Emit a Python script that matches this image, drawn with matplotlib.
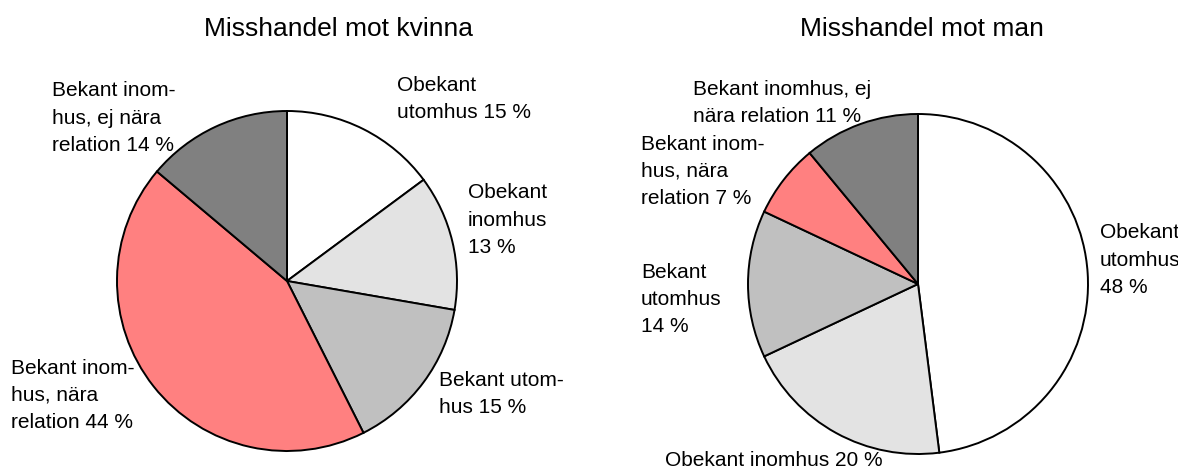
#%% Packages
import numpy as np
import matplotlib
matplotlib.use('Agg')
import matplotlib.pyplot as plt

#%% Data
titles = ['Misshandel mot kvinna', 'Misshandel mot man']
# slices, clockwise from 12 o'clock
cats = ['Obekant utomhus', 'Obekant inomhus', 'Bekant utomhus',
        'Bekant inomhus, nära relation', 'Bekant inomhus, ej nära relation']
kvinna = [15, 13, 15, 44, 14]            # [%]
man = [48, 20, 14, 7, 11]                # [%]
kvinna_lbl = ['Obekant\nutomhus 15 %', 'Obekant\ninomhus\n13 %', 'Bekant utom-\nhus 15 %',
              'Bekant inom-\nhus, nära\nrelation 44 %', 'Bekant inom-\nhus, ej nära\nrelation 14 %']
man_lbl = ['Obekant\nutomhus\n48 %', 'Obekant inomhus 20 %', 'Bekant\nutomhus\n14 %',
           'Bekant inom-\nhus, nära\nrelation 7 %', 'Bekant inomhus, ej\nnära relation 11 %']

#%% Style
W, H = 1178, 467                         # [px] - figure size
colors = ['#FFFFFF', '#E3E3E3', '#C0C0C0', '#FF8080', '#808080']
centers = [(287, 281), (918, 284)]       # [px] - pie centres (from top)
R = 170                                  # [px] - pie radius
title_pos = [(338, 36), (922, 36)]       # [px] - centre, baseline
# label anchor: left edge, baseline of last line (from top)
kvinna_pos = [(397, 118), (468, 253), (439, 413), (11, 428), (52, 151)]
man_pos = [(1100, 293), (665, 466), (641, 332), (641, 204), (693, 122)]

plt.rcParams['font.family'] = ['Liberation Sans', 'DejaVu Sans']

#%% Plotting
fig = plt.figure(figsize=(W/100, H/100), dpi=100)
ax = fig.add_axes([0, 0, 1, 1])

for vals, c in zip([kvinna, man], centers):
    ax.pie(vals, colors=colors, startangle=90, counterclock=False,
           center=(c[0], H - c[1]), radius=R,
           wedgeprops=dict(edgecolor='black', linewidth=1.4))

for t, (x, y) in zip(titles, title_pos):
    ax.text(x, H - y, t, ha='center', va='baseline', fontsize=19, zorder=5)

for lbls, pos in [(kvinna_lbl, kvinna_pos), (man_lbl, man_pos)]:
    for t, (x, y) in zip(lbls, pos):
        ax.text(x, H - y, t, ha='left', va='baseline', fontsize=15,
                linespacing=1.55, zorder=5)

ax.set_xlim(0, W)
ax.set_ylim(0, H)
ax.set_aspect('equal')
ax.axis('off')

fig.savefig('out.png', dpi=100)
